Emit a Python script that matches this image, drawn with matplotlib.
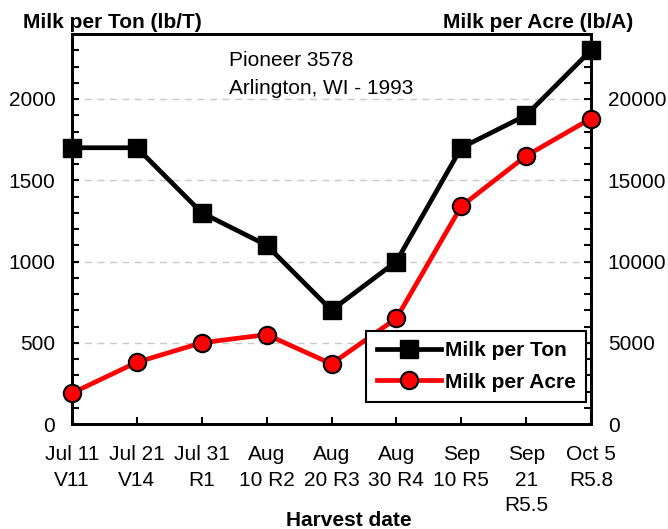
import matplotlib
matplotlib.use("Agg")
import matplotlib.pyplot as plt
from matplotlib.ticker import MultipleLocator

plt.rcParams['font.family'] = ['Liberation Sans', 'DejaVu Sans']

dates = ["Jul 11\nV11", "Jul 21\nV14", "Jul 31\nR1", "Aug\n10 R2", "Aug\n20 R3",
         "Aug\n30 R4", "Sep\n10 R5", "Sep\n21\nR5.5", "Oct 5\nR5.8"]
milk_per_ton = [1700, 1700, 1300, 1100, 700, 1000, 1700, 1900, 2300]
milk_per_acre = [1900, 3800, 5000, 5500, 3700, 6500, 13400, 16500, 18800]

FS = 15

fig = plt.figure(figsize=(6.68, 5.29), dpi=100)
L, R, T, B = 72, 591, 34, 424
ax = fig.add_axes([L / 668, 1 - B / 529, (R - L) / 668, (B - T) / 529])
ax2 = ax.twinx()

x = list(range(len(dates)))

for yv in [500, 1000, 1500, 2000]:
    ax.axhline(yv, color='#c8c8c8', lw=1, ls=(0, (5, 4)), zorder=0)

l1, = ax.plot(x, milk_per_ton, color='black', lw=3.4, marker='s', markersize=12.5,
              markerfacecolor='black', markeredgecolor='black', label='Milk per Ton', zorder=3, clip_on=False)
l2, = ax2.plot(x, milk_per_acre, color='#ff0000', lw=3.4, marker='o', markersize=12.5,
               markerfacecolor='#ff0000', markeredgecolor='black', markeredgewidth=1.5,
               label='Milk per Acre', zorder=3, clip_on=False)

ax.set_xlim(0, 8)
ax.set_ylim(0, 2400)
ax2.set_ylim(0, 24000)

ax.set_xticks(x)
ax.set_xticklabels(dates, fontsize=FS, linespacing=1.45)
ax.yaxis.set_major_locator(MultipleLocator(500))
ax.yaxis.set_minor_locator(MultipleLocator(100))
ax2.yaxis.set_major_locator(MultipleLocator(5000))
ax2.yaxis.set_minor_locator(MultipleLocator(1000))

ax.tick_params(axis='both', which='both', direction='in', length=5, width=1.5, labelsize=FS)
ax.tick_params(axis='x', pad=15)
ax.tick_params(axis='y', pad=12)
ax2.tick_params(axis='y', which='both', direction='in', length=5, width=1.5, labelsize=FS, pad=12)

for a in (ax, ax2):
    for s in a.spines.values():
        s.set_linewidth(2)

fig.text(349 / 668, 1 - 521 / 529, "Harvest date", fontsize=FS, fontweight='bold', ha='center', va='center')

fig.text(23 / 668, 1 - 23 / 529, "Milk per Ton (lb/T)", fontsize=FS, fontweight='bold', ha='left', va='center')
fig.text(633 / 668, 1 - 23 / 529, "Milk per Acre (lb/A)", fontsize=FS, fontweight='bold', ha='right', va='center')

fig.text(229 / 668, 1 - 61 / 529, "Pioneer 3578", fontsize=FS, ha='left', va='center')
fig.text(229 / 668, 1 - 89 / 529, "Arlington, WI - 1993", fontsize=FS, ha='left', va='center')

ax2.set_zorder(ax.get_zorder() + 1)
ax.patch.set_visible(False)

leg = ax2.legend([l1, l2], ['Milk per Ton', 'Milk per Acre'], loc='lower right',
                 bbox_to_anchor=(0.99, 0.056), prop={'weight': 'bold', 'size': FS},
                 frameon=True, fancybox=False, framealpha=1, edgecolor='black',
                 handlelength=3.1, borderpad=0.5, labelspacing=0.6, handletextpad=0.15,
                 borderaxespad=0)
leg.get_frame().set_linewidth(1.5)

fig.savefig("out.png", dpi=100)
